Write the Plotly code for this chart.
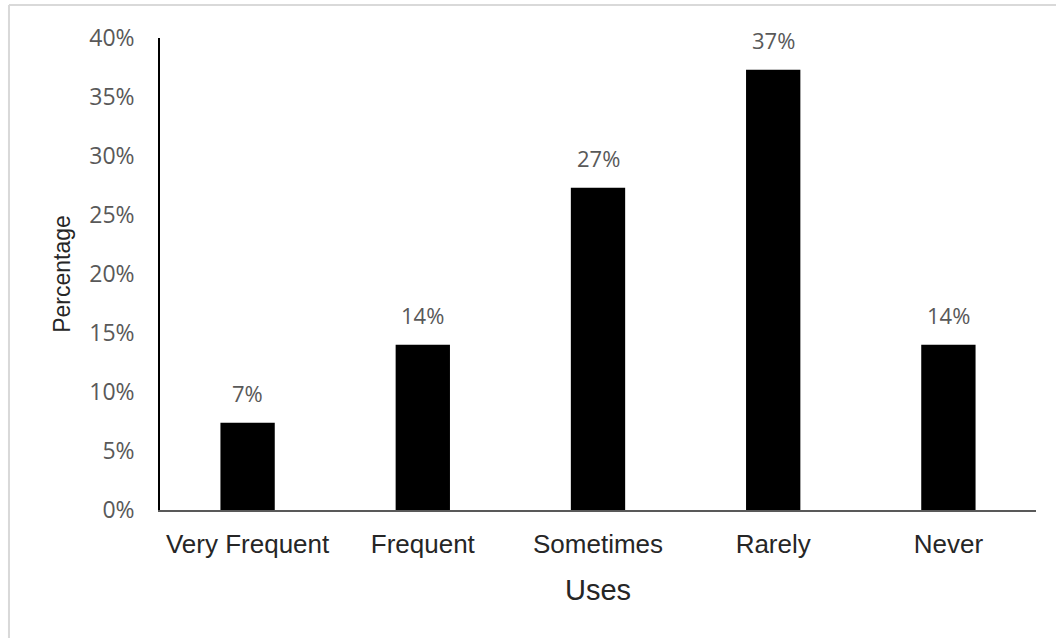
import plotly.graph_objects as go

# Survey responses: how often the item is used
categories = ["Very Frequent", "Frequent", "Sometimes", "Rarely", "Never"]
shares = [0.074, 0.14, 0.273, 0.373, 0.14]
y_ticks = [0, 0.05, 0.10, 0.15, 0.20, 0.25, 0.30, 0.35, 0.40]

label_font = dict(family="Open Sans", size=22, color="#595959")
text_font = dict(family="Liberation Sans, Arial", color="#262626")

fig = go.Figure(
    go.Bar(
        x=categories,
        y=shares,
        marker=dict(color="black", line=dict(width=0)),
        hoverinfo="x+y",
    )
)

# Value labels above each bar
for cat, val in zip(categories, shares):
    fig.add_annotation(
        x=cat, y=val, text=f"{val:.0%}", showarrow=False,
        yanchor="bottom", yshift=13, font=label_font,
    )

# Light frame around the chart area (top and left edges)
frame = dict(color="#d9d9d9", width=2)
fig.add_shape(type="line", xref="paper", yref="paper",
              x0=-0.1724, x1=1.03, y0=1.0699, y1=1.0699, line=frame)
fig.add_shape(type="line", xref="paper", yref="paper",
              x0=-0.1724, x1=-0.1724, y0=1.0699, y1=-0.28, line=frame)

fig.update_layout(
    width=1056, height=638,
    margin=dict(l=160, r=20, t=38, b=128),
    plot_bgcolor="white", paper_bgcolor="white",
    bargap=0.69,
    showlegend=False,
    xaxis=dict(
        showline=True, linecolor="#595959", linewidth=1.5,
        showgrid=False, zeroline=False,
        ticks="", ticklabelstandoff=10,
        tickfont=dict(size=26, **text_font),
        title=dict(text="Uses", font=dict(size=29, **text_font), standoff=22),
    ),
    yaxis=dict(
        range=[0, 0.40],
        tickvals=y_ticks, tickformat=".0%",
        showline=True, linecolor="black", linewidth=1.5,
        showgrid=False, zeroline=False,
        ticks="", ticklabelstandoff=19,
        tickfont=dict(family="Open Sans", size=23, color="#595959"),
        title=dict(text="Percentage", font=dict(size=23, **text_font), standoff=12),
    ),
)

fig.write_html("out.html")
